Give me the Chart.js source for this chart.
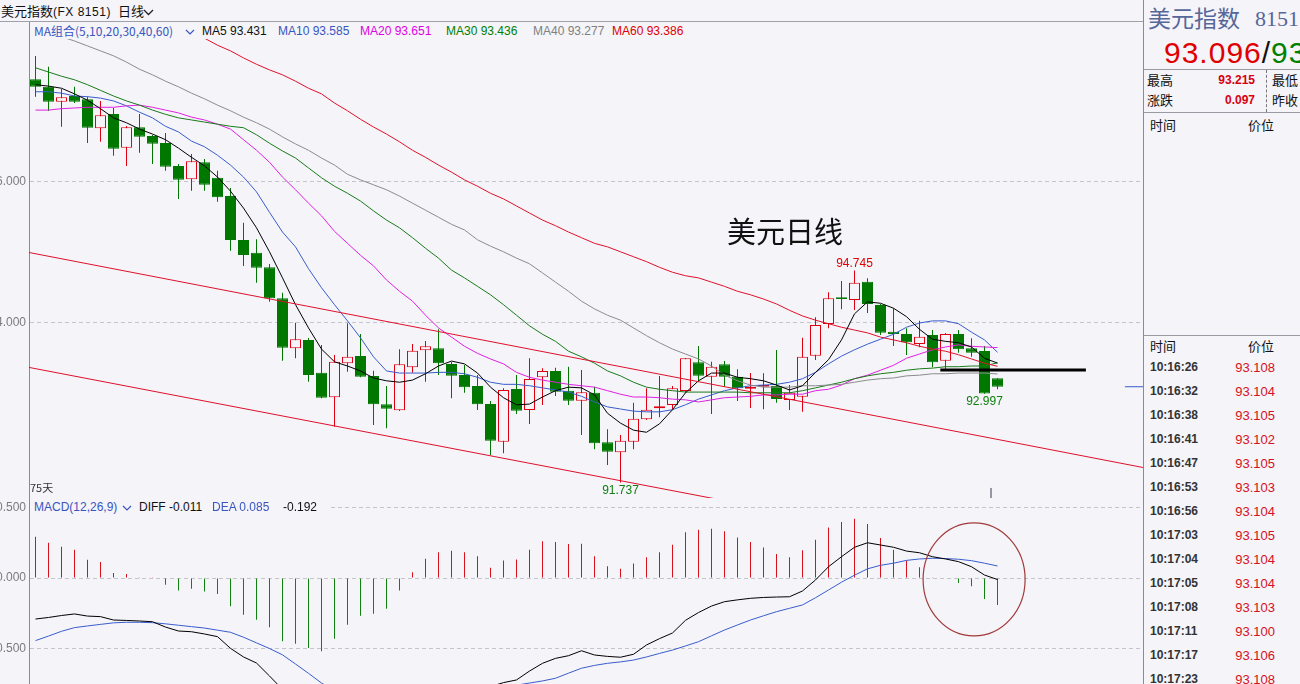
<!DOCTYPE html>
<html><head><meta charset="utf-8">
<script src="https://cdn.jsdelivr.net/npm/chart.js@4.4.1/dist/chart.umd.min.js"></script>
<style>
*{box-sizing:border-box}
html,body{margin:0;padding:0;background:#f4f4f9;}
#root{position:relative;width:1300px;height:684px;overflow:hidden;background:#f4f4f9;font-family:"Liberation Sans","Noto Sans CJK SC",sans-serif;}
.a{position:absolute;white-space:nowrap;line-height:1;}
canvas{position:absolute;}
.cjk{font-family:"Noto Sans CJK SC",sans-serif;}
.hl{position:absolute;height:1px;background:#9a9aa4;}
</style></head><body><div id="root">
<canvas id="pc" width="1143" height="476" style="left:0;top:22px"></canvas>
<canvas id="mc" width="1143" height="186" style="left:0;top:498px"></canvas>

<!-- header -->
<div class="a" style="left:0;top:0;width:1143px;height:22px;background:#f4f4f9;border-bottom:1px solid #a0a0aa"></div>
<div class="a cjk" style="left:1px;top:4px;font-size:13px;color:#111">美元指数<span style="letter-spacing:0.5px;font-family:'Liberation Sans',sans-serif;font-size:12px">(FX 8151)</span></div>
<div class="a cjk" style="left:118px;top:4px;font-size:13px;color:#111">日线</div>
<svg class="a" style="left:143px;top:9px" width="11" height="7"><polyline points="1,1 5.5,5.5 10,1" fill="none" stroke="#222" stroke-width="1.3"/></svg>

<!-- MA legend strip -->
<div class="a" style="left:30px;top:22px;width:680px;height:17px;background:#f4f4f9"></div>
<div class="a cjk" style="left:34px;top:25px;font-size:12px;color:#3a55c0">MA组合(5,10,20,30,40,60)</div>
<svg class="a" style="left:185px;top:29px" width="10" height="7"><polyline points="1,1 5,5 9,1" fill="none" stroke="#3a55c0" stroke-width="1.2"/></svg>

<!-- MACD legend strip -->
<div class="a" style="left:30px;top:499px;width:300px;height:16px;background:#f4f4f9"></div>
<div class="a" style="left:34px;top:501px;font-size:12px;color:#3a55c0">MACD(12,26,9)</div>
<svg class="a" style="left:122px;top:505px" width="10" height="7"><polyline points="1,1 5,5 9,1" fill="none" stroke="#3a55c0" stroke-width="1.2"/></svg>
<div class="a" style="left:139px;top:501px;font-size:12px;color:#111">DIFF -0.011</div>
<div class="a" style="left:212px;top:501px;font-size:12px;color:#3a55c0">DEA 0.085</div>
<div class="a" style="left:283px;top:501px;font-size:12px;color:#111">-0.192</div>

<div class="a cjk" style="left:30px;top:482px;font-size:11px;color:#333">75天</div>
<div class="a cjk" style="left:727px;top:216px;font-size:29px;color:#111">美元日线</div>

<!-- right panel -->
<div class="a" style="left:1143px;top:0;width:157px;height:684px;background:#f4f4f9;border-left:1px solid #8a8a94"></div>
<div class="a cjk" style="left:1148px;top:6px;font-size:23px;color:#56679a">美元指数</div>
<div class="a" style="left:1255px;top:8px;font-size:22px;color:#56679a;font-family:'Liberation Serif',serif">8151</div>
<div class="a" style="left:1164px;top:38px;font-size:30px;letter-spacing:1px;"><span style="color:#e00000">93.096</span><span style="color:#111">/</span><span style="color:#008000">93</span></div>
<div class="hl" style="left:1144px;top:69px;width:156px"></div>
<div class="a cjk" style="left:1147px;top:73px;font-size:13px;color:#111">最高</div>
<div class="a" style="left:1200px;top:74px;width:55px;text-align:right;font-size:12px;font-weight:bold;color:#d80010">93.215</div>
<div class="a cjk" style="left:1272px;top:73px;font-size:13px;color:#111">最低</div>
<div class="a cjk" style="left:1147px;top:93px;font-size:13px;color:#111">涨跌</div>
<div class="a" style="left:1200px;top:94px;width:55px;text-align:right;font-size:12px;font-weight:bold;color:#d80010">0.097</div>
<div class="a cjk" style="left:1272px;top:93px;font-size:13px;color:#111">昨收</div>
<div class="a" style="left:1266px;top:70px;width:0;height:42px;border-left:1px dashed #777"></div>
<div class="hl" style="left:1144px;top:112px;width:156px"></div>
<div class="a cjk" style="left:1150px;top:118px;font-size:13px;color:#111">时间</div>
<div class="a cjk" style="left:1248px;top:118px;font-size:13px;color:#111">价位</div>
<div class="hl" style="left:1144px;top:335px;width:156px"></div>
<div class="a cjk" style="left:1150px;top:339px;font-size:13px;color:#111">时间</div>
<div class="a cjk" style="left:1248px;top:339px;font-size:13px;color:#111">价位</div>
<div id="ticks"></div>
</div>
<script>
// ---------------- data ----------------
const openP  = [97.457,97.352,97.139,97.220,97.173,96.762,96.965,96.487,96.776,96.652,
                96.553,96.227,96.038,96.279,96.061,95.801,95.177,94.997,94.790,94.350,
                93.641,93.759,93.295,92.946,93.428,93.532,93.248,92.847,92.762,93.372,
                93.613,93.641,93.418,93.262,93.106,92.851,92.316,93.064,92.766,93.230,
                93.319,93.040,92.898,93.011,92.308,92.166,92.316,92.634,92.790,92.837,
                93.035,93.443,93.238,93.414,93.238,93.068,93.096,93.106,92.908,92.955,
                93.536,93.986,94.365,94.326,94.586,94.255,93.877,93.844,93.702,93.830,
                93.465,93.844,93.641,93.603,93.215];
const highP  = [97.787,97.635,97.319,97.352,97.210,97.149,97.050,96.794,96.965,96.667,
                96.695,96.255,96.397,96.326,96.160,95.915,95.423,95.187,94.837,94.430,
                94.004,93.787,93.688,93.546,93.996,93.844,93.323,93.106,93.627,93.702,
                93.745,93.911,93.447,93.404,93.262,92.894,93.074,93.262,93.499,93.357,
                93.366,93.380,93.333,93.096,92.492,92.411,92.870,93.074,93.248,93.106,
                93.504,93.674,93.451,93.461,93.343,93.291,93.287,93.617,93.121,93.791,
                94.081,94.435,94.596,94.745,94.634,94.270,94.209,93.925,94.033,93.901,
                93.858,93.901,93.783,93.674,93.215];
const lowP   = [97.210,97.007,96.784,97.121,96.553,96.572,96.373,96.227,96.416,96.255,
                96.160,95.759,95.877,95.877,95.721,95.026,94.809,94.572,94.302,93.465,
                93.499,93.167,92.932,92.529,93.309,93.230,92.553,92.506,92.752,93.295,
                93.167,93.262,92.932,93.011,92.766,92.128,92.152,92.709,92.567,92.837,
                92.965,92.837,92.411,92.209,91.986,91.737,92.209,92.624,92.662,92.776,
                93.011,93.167,92.709,93.096,92.894,92.794,92.776,92.870,92.766,92.742,
                93.475,93.925,94.194,94.184,94.142,93.830,93.674,93.546,93.655,93.372,
                93.343,93.579,93.522,92.997,93.060];
const closeP = [97.352,97.139,97.201,97.139,96.770,96.946,96.472,96.776,96.643,96.543,
                96.217,96.033,96.294,95.962,95.783,95.177,94.965,94.784,94.350,93.650,
                93.769,93.262,92.940,93.451,93.522,93.238,92.847,92.784,93.414,93.607,
                93.670,93.428,93.252,93.088,92.847,92.330,93.050,92.756,93.206,93.319,
                93.026,92.898,93.017,92.294,92.174,92.330,92.643,92.770,92.818,93.074,
                93.499,93.252,93.380,93.238,93.074,93.096,93.121,92.922,93.011,93.522,
                93.972,94.350,94.340,94.572,94.270,93.862,93.844,93.726,93.806,93.443,
                93.844,93.627,93.579,92.999,93.096];

const ma5  = [97.38,97.36,97.33,97.25,97.16,97.04,96.91,96.84,96.75,96.68,
              96.60,96.48,96.35,96.23,96.07,95.87,95.63,95.35,95.01,94.64,
              94.26,93.93,93.63,93.45,93.39,93.32,93.22,93.18,93.16,93.19,
              93.28,93.39,93.46,93.42,93.29,93.09,92.94,92.84,92.85,92.95,
              93.04,93.09,93.08,92.98,92.72,92.58,92.48,92.45,92.57,92.77,
              93.01,93.18,93.29,93.29,93.23,93.21,93.18,93.12,93.05,93.11,
              93.30,93.48,93.76,94.13,94.30,94.28,94.21,94.09,93.91,93.77,
              93.74,93.72,93.66,93.50,93.431];
const ma10 = [97.28,97.28,97.26,97.22,97.21,97.19,97.15,97.08,96.99,96.91,
              96.79,96.71,96.58,96.50,96.38,96.24,96.07,95.86,95.57,95.29,
              95.08,94.77,94.50,94.26,94.03,93.79,93.52,93.32,93.29,93.29,
              93.29,93.30,93.30,93.28,93.23,93.16,93.13,93.13,93.11,93.08,
              93.05,93.02,92.96,92.88,92.81,92.78,92.75,92.74,92.74,92.77,
              92.84,92.92,92.98,93.04,93.08,93.11,93.12,93.13,93.16,93.21,
              93.30,93.42,93.53,93.62,93.70,93.77,93.84,93.94,94.00,94.03,
              94.03,93.99,93.87,93.76,93.585];
const ma20 = [97.02,97.02,97.04,97.05,97.06,97.06,97.06,97.08,97.09,97.06,
              97.02,96.98,96.92,96.88,96.82,96.75,96.60,96.45,96.28,96.07,
              95.89,95.70,95.52,95.30,95.13,94.96,94.81,94.61,94.45,94.31,
              94.11,93.93,93.80,93.67,93.57,93.49,93.42,93.30,93.23,93.19,
              93.16,93.13,93.11,93.09,93.04,92.99,92.95,92.95,92.94,92.92,
              92.91,92.88,92.91,92.94,92.95,92.96,92.98,92.98,92.99,92.99,
              93.04,93.06,93.12,93.21,93.26,93.33,93.40,93.50,93.56,93.62,
              93.66,93.69,93.67,93.66,93.651];
const ma30 = [97.62,97.56,97.50,97.45,97.38,97.30,97.22,97.15,97.09,97.02,
              96.96,96.91,96.88,96.85,96.82,96.79,96.77,96.67,96.55,96.44,
              96.34,96.20,96.06,95.94,95.84,95.73,95.59,95.46,95.35,95.21,
              95.06,94.92,94.75,94.64,94.52,94.40,94.26,94.11,93.96,93.84,
              93.74,93.60,93.52,93.43,93.32,93.25,93.16,93.09,93.06,93.04,
              93.02,93.02,93.02,93.02,93.02,93.01,93.01,93.01,93.01,93.04,
              93.08,93.12,93.16,93.21,93.25,93.28,93.30,93.33,93.35,93.36,
              93.38,93.38,93.39,93.39,93.436];
const ma40 = [98.20,98.13,98.06,98.00,97.93,97.86,97.79,97.70,97.60,97.52,
              97.43,97.35,97.26,97.18,97.09,97.01,96.92,96.84,96.75,96.64,
              96.54,96.45,96.34,96.24,96.11,96.03,95.96,95.89,95.80,95.70,
              95.60,95.50,95.40,95.32,95.18,95.09,95.01,94.92,94.84,94.71,
              94.58,94.45,94.31,94.20,94.11,94.04,93.93,93.82,93.72,93.63,
              93.56,93.49,93.39,93.26,93.18,93.12,93.09,93.09,93.09,93.11,
              93.11,93.12,93.13,93.16,93.19,93.21,93.22,93.25,93.26,93.28,
              93.28,93.29,93.29,93.29,93.277];
const ma60 = [null,null,null,null,null,null,null,null,null,null,
              98.31,98.23,98.13,98.04,97.94,97.86,97.76,97.67,97.59,97.52,
              97.43,97.33,97.25,97.12,97.01,96.89,96.78,96.68,96.57,96.45,
              96.35,96.24,96.14,96.03,95.94,95.84,95.76,95.66,95.56,95.46,
              95.38,95.29,95.21,95.13,95.08,95.01,94.94,94.87,94.79,94.72,
              94.67,94.64,94.58,94.52,94.45,94.40,94.34,94.27,94.18,94.10,
              94.04,93.99,93.94,93.90,93.86,93.80,93.76,93.72,93.67,93.63,
              93.60,93.55,93.49,93.43,93.386];

const macdHist = [0.293,0.250,0.222,0.200,0.129,0.113,0.035,0.028,0.006,0.002,
                  -0.048,-0.088,-0.076,-0.095,-0.113,-0.201,-0.260,-0.296,-0.350,-0.449,
                  -0.466,-0.496,-0.520,-0.430,-0.331,-0.267,-0.253,-0.218,-0.088,0.040,
                  0.137,0.182,0.194,0.182,0.154,0.073,0.125,0.132,0.201,0.260,
                  0.255,0.241,0.243,0.154,0.083,0.066,0.102,0.147,0.182,0.236,
                  0.324,0.343,0.350,0.331,0.288,0.255,0.217,0.170,0.147,0.196,
                  0.272,0.359,0.397,0.421,0.383,0.284,0.201,0.125,0.076,0.005,
                  -0.004,-0.035,-0.059,-0.149,-0.192];
const diffLine = [-0.291,-0.280,-0.266,-0.255,-0.270,-0.274,-0.298,-0.301,-0.305,-0.310,
                  -0.348,-0.376,-0.381,-0.397,-0.416,-0.499,-0.560,-0.603,-0.695,-0.790,
                  -0.870,-0.950,-1.020,-1.050,-1.050,-1.040,-1.020,-0.990,-0.930,-0.870,
                  -0.830,-0.800,-0.780,-0.770,-0.770,-0.770,-0.742,-0.723,-0.660,-0.605,
                  -0.570,-0.551,-0.516,-0.546,-0.556,-0.562,-0.541,-0.475,-0.430,-0.390,
                  -0.300,-0.245,-0.199,-0.168,-0.155,-0.144,-0.138,-0.135,-0.133,-0.092,
                  -0.014,0.080,0.151,0.218,0.250,0.234,0.218,0.191,0.179,0.151,
                  0.135,0.116,0.080,0.021,-0.011];
const deaLine  = [-0.444,-0.412,-0.378,-0.352,-0.340,-0.329,-0.318,-0.314,-0.314,-0.317,
                  -0.325,-0.335,-0.345,-0.355,-0.370,-0.385,-0.420,-0.460,-0.500,-0.545,
                  -0.610,-0.676,-0.745,-0.800,-0.840,-0.860,-0.880,-0.890,-0.890,-0.880,
                  -0.870,-0.860,-0.840,-0.830,-0.810,-0.790,-0.780,-0.760,-0.745,-0.730,
                  -0.711,-0.675,-0.640,-0.620,-0.605,-0.595,-0.582,-0.560,-0.535,-0.511,
                  -0.482,-0.452,-0.410,-0.369,-0.333,-0.298,-0.268,-0.239,-0.215,-0.191,
                  -0.140,-0.085,-0.030,0.020,0.065,0.090,0.105,0.125,0.135,0.140,
                  0.138,0.133,0.123,0.105,0.085];

// hand-drawn trend lines (index, price)
const upperChannel = [{x:-0.5, y:95.00}, {x:85.2, y:91.95}];
const lowerChannel = [{x:-0.5, y:93.37}, {x:55, y:91.41}];
const supportLine  = [{x:69.6, y:93.333}, {x:80.8, y:93.333}];
const lastPriceMark = [{x:83.8, y:93.096}, {x:85.2, y:93.096}];
const cursorTick = [{x:73.5, y:91.66}, {x:73.5, y:91.50}];

const priceTicks = [94, 96];
const macdTicks = [-0.5, 0, 0.5];

const maLegend = [
  {t:'MA5 93.431',  c:'#111111', x:202},
  {t:'MA10 93.585', c:'#3a55c0', x:278},
  {t:'MA20 93.651', c:'#e000e0', x:360},
  {t:'MA30 93.436', c:'#008000', x:446},
  {t:'MA40 93.277', c:'#808080', x:533},
  {t:'MA60 93.386', c:'#e00000', x:612}
];
const tickTimes  = ['10:16:26','10:16:32','10:16:38','10:16:41','10:16:47','10:16:53','10:16:56',
                    '10:17:03','10:17:04','10:17:05','10:17:08','10:17:11','10:17:17','10:17:23'];
const tickPrices = ['93.108','93.104','93.105','93.102','93.105','93.103','93.104',
                    '93.105','93.104','93.104','93.103','93.100','93.106','93.108'];

// ---------------- DOM text ----------------
const root = document.getElementById('root');
maLegend.forEach(m => {
  const d = document.createElement('div');
  d.className = 'a'; d.style.left = m.x + 'px'; d.style.top = '25px';
  d.style.fontSize = '12px'; d.style.color = m.c; d.textContent = m.t;
  root.appendChild(d);
});
const tk = document.getElementById('ticks');
tickTimes.forEach((t, i) => {
  const y = 361 + 24 * i;
  const a = document.createElement('div');
  a.className = 'a'; a.style.left = '1150px'; a.style.top = y + 'px';
  a.style.fontSize = '12px'; a.style.fontWeight = 'bold'; a.style.color = '#333';
  a.textContent = t; tk.appendChild(a);
  const b = document.createElement('div');
  b.className = 'a'; b.style.left = '1215px'; b.style.width = '60px'; b.style.textAlign = 'right';
  b.style.top = y + 'px'; b.style.fontSize = '13px'; b.style.color = '#d81020';
  b.textContent = tickPrices[i]; tk.appendChild(b);
});

// ---------------- charts ----------------
const BG = '#f4f4f9', RED = '#e00010', GREEN = '#007800';
const idx = openP.map((_, i) => i);
const up = i => closeP[i] >= openP[i];
const wick = idx.map(i => ({x:i, y:[lowP[i], highP[i]]}));
const body = idx.map(i => ({x:i, y:[openP[i], closeP[i]]}));
const pts = arr => arr.map((v, i) => ({x:i, y:v}));
const xMin = -0.5, xMax = -0.5 + 1114 / 13;

const lineDs = (data, color, width, order) => ({type:'line', data, borderColor:color, borderWidth:width,
  pointRadius:0, tension:0, fill:false, order, spanGaps:false});

const labelPlugin = {
  id:'labels',
  afterDatasetsDraw(chart) {
    const {ctx, scales:{x, y}} = chart;
    ctx.save();
    ctx.font = '12px "Liberation Sans", sans-serif';
    ctx.textAlign = 'center'; ctx.textBaseline = 'middle';
    ctx.fillStyle = '#e00000';
    ctx.fillText('94.745', x.getPixelForValue(63), y.getPixelForValue(highP[63]) - 7);
    ctx.fillStyle = '#108010';
    ctx.fillText('92.997', x.getPixelForValue(73), y.getPixelForValue(lowP[73]) + 8);
    ctx.fillText('91.737', x.getPixelForValue(45), y.getPixelForValue(lowP[45]) + 8);
    ctx.restore();
  }
};

const yAxis = (min, max, list) => ({
  position:'left', min, max,
  afterBuildTicks(s){ s.ticks = list.map(v => ({value:v})); },
  afterFit(s){ s.width = 29; s.paddingTop = 0; s.paddingBottom = 0; },
  grid:{display:true, color:'#c4c4cc', drawTicks:false, lineWidth:1},
  border:{display:true, color:'#8a8a94', dash:[4,3]},
  ticks:{color:'#7a7a80', padding:3, font:{size:12, family:'"Liberation Sans", sans-serif'}, callback:v => v.toFixed(3)}
});

new Chart(document.getElementById('pc'), {
  type:'bar',
  data:{datasets:[
    {type:'bar', data:wick, grouped:false, barThickness:1, inflateAmount:0, borderWidth:0,
     backgroundColor:c => up(c.dataIndex) ? RED : GREEN, order:5},
    {type:'bar', data:body, grouped:false, barThickness:11, inflateAmount:0, borderWidth:1, borderSkipped:false,
     backgroundColor:c => up(c.dataIndex) ? BG : GREEN,
     borderColor:c => up(c.dataIndex) ? RED : GREEN, order:4},
    lineDs(pts(ma60), '#e0102a', 1, 3),
    lineDs(pts(ma40), '#8c8c8c', 1, 3),
    lineDs(pts(ma30), '#1a7a1a', 1, 3),
    lineDs(pts(ma20), '#e020e0', 1, 3),
    lineDs(pts(ma10), '#3a5ccc', 1, 3),
    lineDs(pts(ma5),  '#000000', 1, 2),
    lineDs(upperChannel, '#e0102a', 1, 1),
    lineDs(lowerChannel, '#e0102a', 1, 1),
    lineDs(supportLine, '#000000', 3, 0),
    lineDs(lastPriceMark, '#3a5ccc', 1, 0),
    lineDs(cursorTick, '#8a8a94', 1, 0)
  ]},
  options:{
    responsive:false, animation:false, events:[],
    layout:{padding:0},
    plugins:{legend:{display:false}, tooltip:{enabled:false}},
    scales:{
      x:{type:'linear', min:xMin, max:xMax, display:false, offset:false},
      y:yAxis(98.2695 - 476 / 70.5, 98.2695, priceTicks)
    }
  },
  plugins:[labelPlugin]
});

const ellipsePlugin = {
  id:'ellipse',
  afterDatasetsDraw(chart) {
    const {ctx, scales:{x, y}} = chart;
    ctx.save();
    ctx.strokeStyle = '#a23a3a'; ctx.lineWidth = 1.2;
    ctx.beginPath();
    ctx.ellipse(x.getPixelForValue(72.2), y.getPixelForValue(-0.01), 51, 56.5, 0, 0, Math.PI * 2);
    ctx.stroke();
    ctx.restore();
  }
};

new Chart(document.getElementById('mc'), {
  type:'bar',
  data:{datasets:[
    {type:'bar', data:pts(macdHist), grouped:false, barThickness:1, inflateAmount:0, borderWidth:0,
     backgroundColor:c => (macdHist[c.dataIndex] >= 0 ? '#d8101a' : '#108010'), order:3},
    lineDs(pts(diffLine), '#000000', 1, 1),
    lineDs(pts(deaLine), '#3a5ccc', 1, 2)
  ]},
  options:{
    responsive:false, animation:false, events:[],
    layout:{padding:0},
    plugins:{legend:{display:false}, tooltip:{enabled:false}},
    scales:{
      x:{type:'linear', min:xMin, max:xMax, display:false, offset:false},
      y:yAxis(80/141 - 186/141, 80/141, macdTicks)
    }
  },
  plugins:[ellipsePlugin]
});
</script>
</body></html>
